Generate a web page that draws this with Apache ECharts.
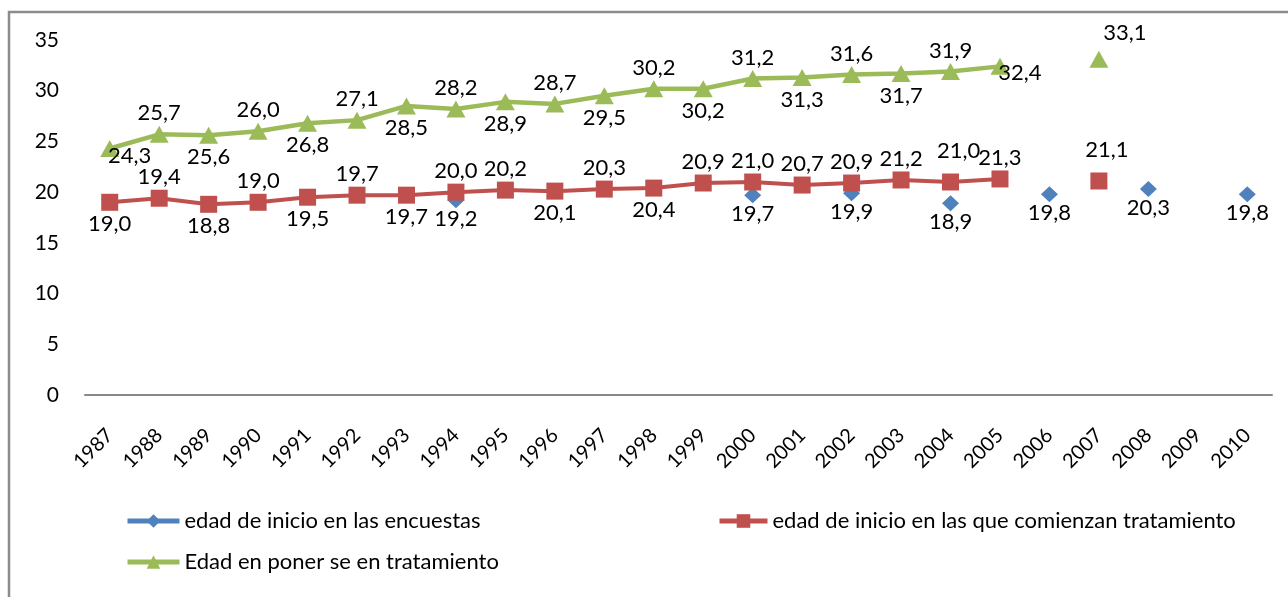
<!DOCTYPE html>
<html>
<head>
<meta charset="utf-8">
<script src="https://cdn.jsdelivr.net/npm/echarts@6/dist/echarts.min.js"></script>
<style>
  html, body { margin: 0; padding: 0; background: #ffffff; }
  #chart { width: 1288px; height: 597px; }
</style>
</head>
<body>
<div id="chart"></div>
<script>
// Years on the category axis
const years = ['1987','1988','1989','1990','1991','1992','1993','1994','1995','1996','1997','1998',
               '1999','2000','2001','2002','2003','2004','2005','2006','2007','2008','2009','2010'];

// edad de inicio en las encuestas (only survey years)
const edadEncuestas = [null,null,null,null,null,null,null,19.2,null,null,null,null,
                       null,19.7,null,19.9,null,18.9,null,19.8,null,20.3,null,19.8];

// edad de inicio en las que comienzan tratamiento
const edadInicioTratamiento = [19.0,19.4,18.8,19.0,19.5,19.7,19.7,20.0,20.2,20.1,20.3,20.4,
                               20.9,21.0,20.7,20.9,21.2,21.0,21.3,null,21.1,null,null,null];

// Edad en ponerse en tratamiento
const edadPonerseTratamiento = [24.3,25.7,25.6,26.0,26.8,27.1,28.5,28.2,28.9,28.7,29.5,30.2,
                                30.2,31.2,31.3,31.6,31.7,31.9,32.4,null,33.1,null,null,null];

const seriesNames = [
  'edad de inicio en las encuestas',
  'edad de inicio en las que comienzan tratamiento',
  'Edad en poner se en tratamiento'
];

const yTicks = { min: 0, max: 35, interval: 5 };

// Which side of each marker its value label sits on
const labelSideRed = ['b','t','b','t','b','t','b','t','t','b','t','b',
                      't','t','t','t','t','tt','t',null,'tt',null,null,null];
const labelSideGreen = ['br','t','b','t','b','t','b','t','b','t','b','t',
                        'b','t','b','t','b','t','br',null,'tr',null,null,null];
const labelSideBlue = 'b';

const sideOffsets = {
  t:  [0, -21],
  tt: [8, -31],
  b:  [0, 22],
  br: [20, 7],
  tr: [26, -26]
};

const FONT = 'Lato, "Liberation Sans", sans-serif';
const COLORS = ['#4F81BD', '#C0504D', '#9BBB59'];

function fmt(v) { return v.toFixed(1).replace('.', ','); }

function buildData(values, sides, blueOffset) {
  return values.map(function (v, i) {
    if (v == null) return null;
    const side = Array.isArray(sides) ? sides[i] : sides;
    const off = blueOffset ? [0, 19] : sideOffsets[side];
    return {
      value: v,
      label: { show: true, position: 'inside', offset: off }
    };
  });
}

const labelBase = {
  show: true,
  color: '#000',
  fontFamily: FONT,
  fontSize: 22,
  formatter: function (p) { return fmt(p.value); }
};

const legendText = { fontFamily: FONT, fontSize: 22, color: '#000' };

const chart = echarts.init(document.getElementById('chart'), null, { renderer: 'canvas' });

chart.setOption({
  animation: false,
  backgroundColor: '#ffffff',
  color: COLORS,
  graphic: [{
    type: 'rect',
    shape: { x: 9, y: 12, width: 1300, height: 620 },
    style: { fill: 'none', stroke: '#8c8c8c', lineWidth: 2.5 },
    z: -10
  }],
  grid: { left: 85, right: 16, top: 40, bottom: 202, containLabel: false },
  xAxis: {
    type: 'category',
    data: years,
    boundaryGap: true,
    axisLine: { show: true, lineStyle: { color: '#888', width: 2 } },
    axisTick: { show: false },
    axisLabel: {
      rotate: 45,
      margin: 37,
      fontFamily: FONT,
      fontSize: 20,
      color: '#000',
      interval: 0
    },
    splitLine: { show: false }
  },
  yAxis: {
    type: 'value',
    min: yTicks.min,
    max: yTicks.max,
    interval: yTicks.interval,
    axisLine: { show: false },
    axisTick: { show: false },
    splitLine: { show: false },
    axisLabel: {
      margin: 26,
      fontFamily: FONT,
      fontSize: 21,
      color: '#000'
    }
  },
  legend: [
    {
      data: [seriesNames[0]], left: 120, top: 505,
      itemWidth: 52, itemHeight: 17, itemGap: 4,
      lineStyle: { width: 5 },
      textStyle: legendText
    },
    {
      data: [seriesNames[1]], left: 712, top: 505,
      itemWidth: 48, itemHeight: 17,
      lineStyle: { width: 5 },
      textStyle: legendText
    },
    {
      data: [seriesNames[2]], left: 120, top: 546,
      itemWidth: 52, itemHeight: 17,
      lineStyle: { width: 5 },
      textStyle: legendText
    }
  ],
  series: [
    {
      name: seriesNames[0],
      type: 'line',
      data: buildData(edadEncuestas, labelSideBlue, true),
      symbol: 'diamond',
      symbolSize: [17, 16],
      connectNulls: false,
      lineStyle: { width: 4, color: COLORS[0] },
      itemStyle: { color: COLORS[0] },
      label: labelBase,
      z: 2
    },
    {
      name: seriesNames[1],
      type: 'line',
      data: buildData(edadInicioTratamiento, labelSideRed),
      symbol: 'rect',
      symbolSize: 17,
      connectNulls: false,
      lineStyle: { width: 4, color: COLORS[1] },
      itemStyle: { color: COLORS[1] },
      label: labelBase,
      z: 3
    },
    {
      name: seriesNames[2],
      type: 'line',
      data: buildData(edadPonerseTratamiento, labelSideGreen),
      symbol: 'triangle',
      symbolSize: [19, 17],
      connectNulls: false,
      lineStyle: { width: 4.5, color: COLORS[2] },
      itemStyle: { color: COLORS[2] },
      label: labelBase,
      z: 4
    }
  ]
});
</script>
</body>
</html>
